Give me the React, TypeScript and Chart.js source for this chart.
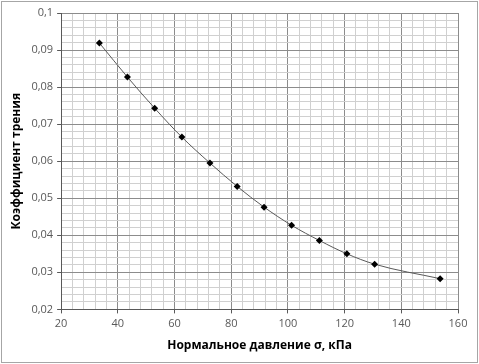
import React, { useEffect, useRef } from "react";
import { Chart, registerables } from "chart.js";

Chart.register(...registerables);

const pressure = [33.5, 43.4, 53.0, 62.6, 72.5, 82.1, 91.6, 101.3, 111.1, 120.8, 130.6, 153.7];
const friction = [0.0919, 0.0827, 0.0743, 0.0665, 0.0595, 0.0532, 0.0476, 0.0427, 0.0386, 0.035, 0.0322, 0.0283];
const xTitle = "Нормальное давление σ, кПа";
const yTitle = "Коэффициент трения";

const borderPlugin = {
  id: "outerBorder",
  afterDraw(chart: any) {
    const ctx = chart.ctx;
    ctx.save();
    ctx.strokeStyle = "#a6a6a6";
    ctx.lineWidth = 1;
    ctx.strokeRect(1.5, 1.5, chart.width - 3, chart.height - 3);
    ctx.restore();
  },
};

export default function App() {
  const ref = useRef<HTMLCanvasElement>(null);
  useEffect(() => {
    document.body.style.margin = "0";
    const isMajorX = (v: number) => Math.round(v) % 20 === 0;
    const isMajorY = (v: number) => Math.round(v * 1000) % 10 === 0;
    const chart = new Chart(ref.current!, {
      type: "scatter",
      data: {
        datasets: [
          {
            data: pressure.map((x, i) => ({ x, y: friction[i] })),
            showLine: true,
            borderColor: "#595959",
            borderWidth: 1,
            tension: 0.4,
            cubicInterpolationMode: "monotone",
            pointStyle: "rectRot",
            pointRadius: 3.5,
            pointBackgroundColor: "#000",
            pointBorderColor: "#000",
            pointBorderWidth: 0,
          } as any,
        ],
      },
      options: {
        animation: false,
        responsive: false,
        devicePixelRatio: 1,
        layout: { padding: { left: 9, right: 21, top: 13, bottom: 11 } },
        plugins: { legend: { display: false }, tooltip: { enabled: false } },
        scales: {
          x: {
            type: "linear",
            min: 20,
            max: 160,
            ticks: {
              stepSize: 4,
              autoSkip: false,
              maxRotation: 0,
              color: "#595959",
              font: { family: "Open Sans", size: 11 },
              padding: 4,
              callback: (v: any) => (isMajorX(Number(v)) ? String(Math.round(Number(v))) : ""),
            },
            grid: {
              color: (c: any) => (isMajorX(c.tick.value) ? "#8c8c8c" : "#d0d0d0"),
              tickColor: (c: any) => (isMajorX(c.tick.value) ? "#595959" : "rgba(0,0,0,0)"),
              tickLength: 4,
              lineWidth: 1,
            },
            border: { color: "#595959" },
            title: {
              display: true,
              text: xTitle,
              color: "#000",
              font: { family: "Open Sans", size: 12, weight: "bold" },
              padding: { top: 4, bottom: 0 },
            },
          },
          y: {
            type: "linear",
            min: 0.02,
            max: 0.1,
            ticks: {
              stepSize: 0.002,
              autoSkip: false,
              color: "#595959",
              font: { family: "Open Sans", size: 11 },
              padding: 4,
              callback: (v: any) => {
                const n = Number(v);
                if (!isMajorY(n)) return "";
                const r = Math.round(n * 100) / 100;
                return String(r).replace(".", ",");
              },
            },
            grid: {
              color: (c: any) => (isMajorY(c.tick.value) ? "#8c8c8c" : "#d0d0d0"),
              tickColor: (c: any) => (isMajorY(c.tick.value) ? "#595959" : "rgba(0,0,0,0)"),
              tickLength: 4,
              lineWidth: 1,
            },
            border: { color: "#595959" },
            title: {
              display: true,
              text: yTitle,
              color: "#000",
              font: { family: "Open Sans", size: 12, weight: "bold" },
              padding: { top: 0, bottom: 4 },
            },
          },
        },
      },
      plugins: [borderPlugin],
    });
    return () => chart.destroy();
  }, []);
  return <canvas ref={ref} width={479} height={364} style={{ display: "block" }} />;
}
